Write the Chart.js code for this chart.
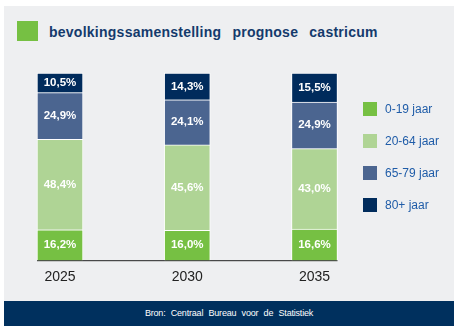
<!DOCTYPE html>
<html lang="nl">
<head>
<meta charset="utf-8"/>
<style>
  body { margin: 0; background: #fff; font-family: Arial, "Liberation Sans", sans-serif; }
  #pagina { position: relative; width: 461px; height: 330px; overflow: hidden; }
  #paneel { position: absolute; left: 4px; top: 6px; width: 450px; height: 295px; background: #eeeff1; }
  #blok { position: absolute; left: 17px; top: 21px; width: 21px; height: 20px; background: #76c043; }
  h1 { position: absolute; left: 49px; top: 25px; margin: 0; font-size: 14px; line-height: 14px; font-weight: bold;
       color: #143a6c; letter-spacing: 0.25px; word-spacing: 7px; white-space: nowrap; }
  #bron { position: absolute; left: 4px; top: 301px; width: 450px; height: 25px; background: #00305e; color: #fff;
          font-size: 9px; line-height: 25px; text-align: center; word-spacing: 3px; letter-spacing: -0.2px; }
  #grafiek { position: absolute; left: 0; top: 0; width: 461px; height: 330px; }
  #legenda { position: absolute; left: 363px; top: 102px; margin: 0; padding: 0; list-style: none; }
  #legenda li { display: flex; align-items: center; height: 14px; margin-bottom: 18px; font-size: 12px; color: #1f5ca8; }
  #legenda span { display: inline-block; width: 14px; height: 14px; margin-right: 8px; }
</style>
</head>
<body>
<div id="pagina">
  <div id="paneel"></div>
  <div id="blok"></div>
  <h1>bevolkingssamenstelling prognose castricum</h1>
  <div id="grafiek"><canvas id="myChart"></canvas></div>
  <ul id="legenda"></ul>
  <div id="bron">Bron: Centraal Bureau voor de Statistiek</div>
</div>

<script src="https://cdn.jsdelivr.net/npm/chart.js"></script>
<script>
  // jaren en percentages per leeftijdsgroep
  var jaren = ["2025", "2030", "2035"];
  var groepen = ["0-19 jaar", "20-64 jaar", "65-79 jaar", "80+ jaar"];
  var jong = [16.2, 16.0, 16.6];
  var werkend = [48.4, 45.6, 43.0];
  var oud = [24.9, 24.1, 24.9];
  var hoogbejaard = [10.5, 14.3, 15.5];
  var kleuren = ["#76c043", "#afd495", "#4b6590", "#002b5c"];

  var reeksen = [jong, werkend, oud, hoogbejaard].map(function (d, i) {
    return {
      label: groepen[i],
      data: d,
      backgroundColor: kleuren[i],
      borderColor: "#ffffff",
      borderWidth: 1,
      barThickness: 46,
      clip: false,
    };
  });

  // lijn onder de staven, van eerste tot laatste staaf
  var basislijn = {
    id: "basislijn",
    beforeDatasetsDraw: function (chart) {
      var meta = chart.getDatasetMeta(0);
      var eerste = meta.data[0], laatste = meta.data[meta.data.length - 1];
      var y = chart.chartArea.bottom + 0.5;
      var ctx = chart.ctx;
      ctx.save();
      ctx.strokeStyle = "#222";
      ctx.lineWidth = 1;
      ctx.beginPath();
      ctx.moveTo(eerste.x - eerste.width / 2, y);
      ctx.lineTo(laatste.x + laatste.width / 2, y);
      ctx.stroke();
      ctx.restore();
    },
  };

  // percentages in de staven
  var waarden = {
    id: "waarden",
    afterDatasetsDraw: function (chart) {
      var ctx = chart.ctx;
      ctx.save();
      ctx.font = "bold 11.5px Arial, 'Liberation Sans', sans-serif";
      ctx.fillStyle = "#ffffff";
      ctx.textAlign = "center";
      ctx.textBaseline = "middle";
      chart.data.datasets.forEach(function (ds, i) {
        chart.getDatasetMeta(i).data.forEach(function (el, j) {
          var p = el.getCenterPoint();
          ctx.fillText(ds.data[j].toFixed(1).replace(".", ",") + "%", p.x, p.y);
        });
      });
      ctx.restore();
    },
  };

  // html legenda
  var legenda = {
    id: "legenda",
    afterUpdate: function (chart) {
      var ul = document.getElementById("legenda");
      ul.innerHTML = "";
      chart.options.plugins.legend.labels.generateLabels(chart).forEach(function (item) {
        var li = document.createElement("li");
        var box = document.createElement("span");
        box.style.background = item.fillStyle;
        li.appendChild(box);
        li.appendChild(document.createTextNode(item.text));
        ul.appendChild(li);
      });
    },
  };

  var ctx = document.getElementById("myChart");
  var myChart = new Chart(ctx, {
    type: "bar",
    data: { labels: jaren, datasets: reeksen },
    options: {
      responsive: true,
      maintainAspectRatio: false,
      animation: false,
      layout: { padding: { left: 60, right: 146.5, top: 73, bottom: 35 } },
      scales: {
        x: {
          stacked: true,
          offset: false,
          grid: { display: false, drawTicks: false },
          border: { display: false },
          ticks: { color: "#222", font: { size: 14, family: "Arial, 'Liberation Sans', sans-serif" }, padding: 9 },
        },
        y: { stacked: true, min: 0, max: 100, display: false },
      },
      plugins: {
        legend: { display: false },
        tooltip: { enabled: false },
      },
    },
    plugins: [basislijn, waarden, legenda],
  });
</script>
</body>
</html>
